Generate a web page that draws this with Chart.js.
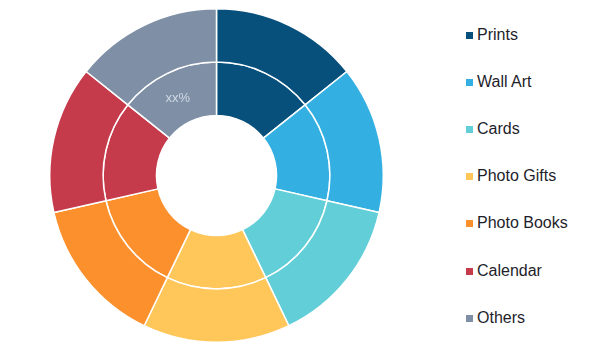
<!DOCTYPE html>
<html>
<head>
<meta charset="utf-8">
<script src="https://cdn.jsdelivr.net/npm/chart.js@4.4.0/dist/chart.umd.min.js"></script>
<style>
    html, body { margin: 0; padding: 0; background: #fff; }
    #wrap { position: relative; width: 600px; height: 351px; }
    #chartBox { position: absolute; left: 0; top: 0; width: 433px; height: 351px; }
    #legend { position: absolute; left: 466px; top: 0; margin: 0; padding: 0; list-style: none;
              font-family: "Liberation Sans", Arial, sans-serif; font-size: 16px; color: #1e1e2a; }
    #legend li { position: absolute; left: 0; white-space: nowrap; height: 18px; line-height: 18px; }
    #legend .box { display: inline-block; width: 7px; height: 7px; margin-right: 4px; vertical-align: 1px; }
</style>
</head>
<body>
<div id="wrap">
    <div id="chartBox"><canvas id="donut"></canvas></div>
    <ul id="legend"></ul>
</div>
<script>
const categories = ['Prints', 'Wall Art', 'Cards', 'Photo Gifts', 'Photo Books', 'Calendar', 'Others'];
const outerValues = [1, 1, 1, 1, 1, 1, 1];
const innerValues = [1, 1, 1, 1, 1, 1, 1];
const innerLabels = ['', '', '', '', '', '', 'xx%'];
const colors = ['#07507c', '#33b0e1', '#62ced8', '#ffc75a', '#fc902c', '#c63b4b', '#7f90a6'];

// legend (html)
const legendEl = document.getElementById('legend');
categories.forEach((name, i) => {
    const li = document.createElement('li');
    li.style.top = (25.5 + i * 47.2) + 'px';
    li.innerHTML = `<span class="box" style="background:${colors[i]}"></span>${name}`;
    legendEl.appendChild(li);
});

// writes the small labels on the inner ring
const innerLabelPlugin = {
    id: 'innerLabels',
    afterDatasetsDraw(chart) {
        const ctx = chart.ctx;
        const meta = chart.getDatasetMeta(1);
        ctx.save();
        ctx.font = '13px "Liberation Sans", Arial, sans-serif';
        ctx.fillStyle = '#cfd8e4';
        ctx.textAlign = 'center';
        ctx.textBaseline = 'middle';
        meta.data.forEach((arc, i) => {
            if (!innerLabels[i]) return;
            const p = arc.tooltipPosition();
            ctx.fillText(innerLabels[i], p.x - 1, p.y + 1);
        });
        ctx.restore();
    }
};

new Chart(document.getElementById('donut'), {
    type: 'doughnut',
    data: {
        labels: categories,
        datasets: [
            { data: outerValues, backgroundColor: colors, borderColor: '#fff', borderWidth: 1.5 },
            { data: innerValues, backgroundColor: colors, borderColor: '#fff', borderWidth: 1.5 }
        ]
    },
    options: {
        responsive: true,
        maintainAspectRatio: false,
        animation: false,
        cutout: '36%',
        layout: { padding: { top: 8, bottom: 8, left: 0, right: 0 } },
        plugins: {
            legend: { display: false },
            tooltip: { enabled: false }
        }
    },
    plugins: [innerLabelPlugin]
});
</script>
</body>
</html>
